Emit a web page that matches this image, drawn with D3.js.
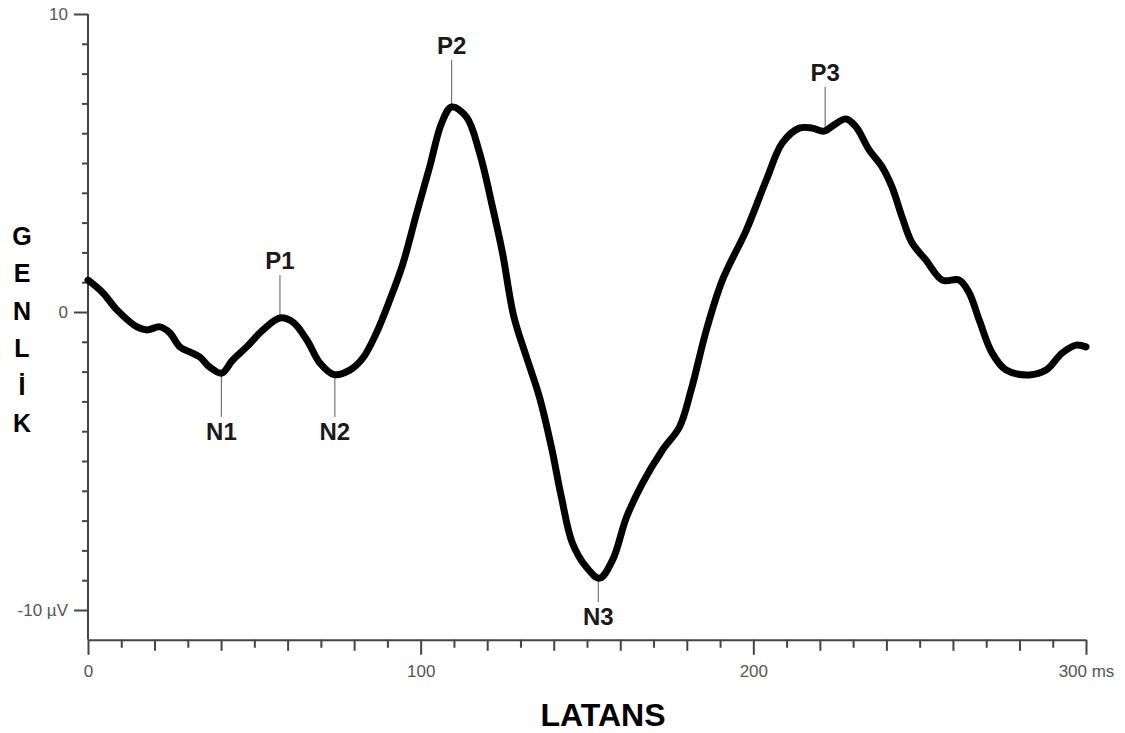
<!DOCTYPE html>
<html>
<head>
<meta charset="utf-8">
<script src="https://cdn.jsdelivr.net/npm/d3@7"></script>
<style>
  body { margin: 0; background: #fff; }
  text { font-family: "Liberation Sans", Arial, Helvetica, sans-serif; }
</style>
</head>
<body>
<script>
// waveform (ms, µV)
const latencyMs = [0, 4.5, 8.7, 14.7, 17.7, 21.6, 24.6, 27.6, 30.6, 33.6, 36.6, 40.2, 43.5, 47.7, 52.6, 57.7,
    61.6, 65.8, 69.7, 74.0, 78.7, 82.6, 86.5, 90.7, 94.6, 98.8, 102.7, 106.3, 109.3, 113.8, 117.7,
    121.6, 124.6, 128.0, 131.8, 135.7, 139.3, 142.3, 145.6, 149.8, 153.8, 157.7, 161.9, 166.7, 172.7,
    177.8, 181.3, 185.9, 190.7, 197.9, 203.9, 208.7, 213.8, 217.7, 221.3, 224.3, 227.9, 230.9, 234.8,
    238.7, 241.7, 244.7, 247.7, 251.9, 256.8, 261.9, 264.9, 267.9, 271.8, 276.0, 282.9, 288.0, 292.8,
    297.0, 300];
const amplitudeUv = [1.07, 0.64, 0.07, -0.50, -0.60, -0.50, -0.70, -1.17, -1.34, -1.51, -1.85, -2.05, -1.61, -1.17, -0.60, -0.20,
    -0.34, -0.94, -1.71, -2.10, -1.95, -1.55, -0.75, 0.40, 1.60, 3.32, 4.87, 6.34, 6.88, 6.54, 5.34,
    3.52, 1.98, -0.15, -1.51, -2.85, -4.53, -6.21, -7.75, -8.56, -8.93, -8.32, -6.88, -5.74, -4.63,
    -3.86, -2.62, -0.60, 1.07, 2.75, 4.43, 5.67, 6.17, 6.17, 6.07, 6.28, 6.48, 6.21, 5.44,
    4.87, 4.19, 3.19, 2.32, 1.74, 1.07, 1.07, 0.64, -0.27, -1.38, -1.95, -2.11, -1.95, -1.38,
    -1.11, -1.17];

// peak annotations
const peakNames = ["N1", "P1", "N2", "P2", "N3", "P3"];
const peakLatency = [40.1, 57.7, 74.2, 109.3, 153.4, 221.6];
const peakAmplitude = [-2.05, -0.2, -2.1, 6.88, -8.93, 6.07];
const peakLabelLevel = [-3.52, 1.24, -3.52, 8.46, -9.73, 7.55];

const xTicksMajor = [0, 100, 200, 300];
const yTicksLabelled = [-10, 0, 10];

const width = 1125,
    height = 733;

const x = d3.scaleLinear().domain([0, 300]).range([88, 1086]);
const y = d3.scaleLinear().domain([-10, 10]).range([610, 14]);

const svg = d3.select("body")
    .append("svg")
    .attr("width", width)
    .attr("height", height);

// x axis: minor ticks every 10 ms, a bit longer every 20, longest every 100
const xAxisY = y(-11);
const xTick = (vals, size) => d3.axisBottom(x).tickValues(vals).tickSize(size).tickFormat("");

const minorX = d3.range(0, 301, 10).filter(d => d % 20 != 0);
const midX = d3.range(0, 301, 20).filter(d => d % 100 != 0);

[[minorX, 8], [midX, 11]].forEach(([vals, size]) => {
    svg.append("g")
        .attr("transform", "translate(0," + xAxisY + ")")
        .call(xTick(vals, size))
        .call(g => g.select(".domain").remove());
});

svg.append("g")
    .attr("id", "x-axis")
    .attr("transform", "translate(0," + xAxisY + ")")
    .call(d3.axisBottom(x)
        .tickValues(xTicksMajor)
        .tickSize(15)
        .tickSizeOuter(0)
        .tickPadding(10)
        .tickFormat(d => d == 300 ? "300 ms" : d));

// y axis: ticks every 1 µV
svg.append("g")
    .attr("transform", "translate(" + x(0) + ",0)")
    .call(d3.axisLeft(y).tickValues(d3.range(-10, 11).filter(d => d % 10 != 0)).tickSize(6).tickFormat(""))
    .call(g => g.select(".domain").remove());

svg.append("g")
    .attr("id", "y-axis")
    .attr("transform", "translate(" + x(0) + ",0)")
    .call(d3.axisLeft(y)
        .tickValues(yTicksLabelled)
        .tickSize(14)
        .tickSizeOuter(0)
        .tickPadding(6)
        .tickFormat(d => d == -10 ? "-10 \u00b5V" : d))
    .call(g => g.select(".domain")
        .attr("d", "M0," + y(10) + "V" + xAxisY));

svg.selectAll(".domain, .tick line")
    .attr("stroke", "#444")
    .attr("stroke-width", 2);

svg.selectAll(".tick text")
    .attr("fill", "#555")
    .style("font-size", "17px");

// leader lines for the peaks
const peaks = peakNames.map((name, i) => ({
    name: name,
    t: peakLatency[i],
    v: peakAmplitude[i],
    level: peakLabelLevel[i],
    up: name[0] == "P"
}));

svg.selectAll(".leader")
    .data(peaks)
    .enter()
    .append("line")
    .attr("class", "leader")
    .attr("x1", d => x(d.t))
    .attr("x2", d => x(d.t))
    .attr("y1", d => y(d.v))
    .attr("y2", d => y(d.level))
    .attr("stroke", "#777")
    .attr("stroke-width", 1.2);

// the waveform
const line = d3.line()
    .x(d => x(d[0]))
    .y(d => y(d[1]))
    .curve(d3.curveCatmullRom.alpha(0.5));

svg.append("path")
    .datum(latencyMs.map((t, i) => [t, amplitudeUv[i]]))
    .attr("d", line)
    .attr("fill", "none")
    .attr("stroke", "#000")
    .attr("stroke-width", 7)
    .attr("stroke-linejoin", "round")
    .attr("stroke-linecap", "round");

svg.selectAll(".peak-label")
    .data(peaks)
    .enter()
    .append("text")
    .attr("class", "peak-label")
    .attr("x", d => x(d.t))
    .attr("y", d => d.up ? y(d.level) - 6 : y(d.level) + 23)
    .attr("text-anchor", "middle")
    .attr("fill", "#1a1a1a")
    .style("font-size", "24px")
    .style("font-weight", "bold")
    .text(d => d.name);

// axis titles
svg.append("text")
    .attr("x", 603)
    .attr("y", 726)
    .attr("text-anchor", "middle")
    .style("font-size", "32px")
    .style("font-weight", "bold")
    .text("LATANS");

const yTitle = svg.append("text")
    .attr("text-anchor", "middle")
    .style("font-size", "25px")
    .style("font-weight", "bold");

Array.from("GENLİK").forEach((ch, i) => {
    yTitle.append("tspan")
        .attr("x", 22)
        .attr("y", 245 + i * 37.4)
        .text(ch);
});
</script>
</body>
</html>
